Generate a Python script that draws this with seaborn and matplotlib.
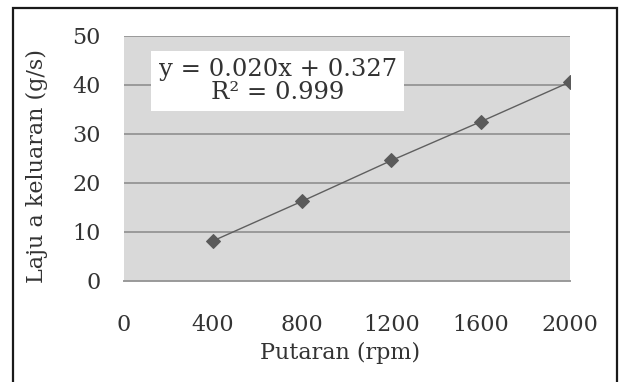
import matplotlib
matplotlib.use("Agg")
import matplotlib.pyplot as plt
import seaborn as sns
import pandas as pd
from matplotlib.patches import Rectangle

# Measured output rate at each rotation speed
rpm = [400, 800, 1200, 1600, 2000]
rate = [8.2, 16.3, 24.6, 32.5, 40.6]

x_ticks = [0, 400, 800, 1200, 1600, 2000]
y_ticks = [0, 10, 20, 30, 40, 50]

equation = "y = 0.020x + 0.327\nR\u00b2 = 0.999"
x_label = "Putaran (rpm)"
y_label = "Laju a keluaran (g/s)"

df = pd.DataFrame({"rpm": rpm, "rate": rate})

sns.set_theme(style="white")
plt.rcParams["font.family"] = ["DejaVu Serif"]

fig = plt.figure(figsize=(6.2, 3.82), dpi=100)
ax = fig.add_axes([0.2, 0.2644, 0.719, 0.6414])
ax.set_facecolor("#d9d9d9")

sns.lineplot(data=df, x="rpm", y="rate", ax=ax, color="#5f5f5f", linewidth=1.0,
             marker="D", markersize=7.5, markerfacecolor="#5a5a5a",
             markeredgecolor="#5a5a5a")

ax.set_xlim(0, 2000)
ax.set_ylim(0, 50)
ax.set_xticks(x_ticks)
ax.set_yticks(y_ticks)
ax.yaxis.grid(True, color="#9a9a9a", linewidth=1.4)
ax.set_axisbelow(True)
for s in ["left", "right", "top"]:
    ax.spines[s].set_visible(False)
ax.spines["bottom"].set_color("#9a9a9a")
ax.spines["bottom"].set_linewidth(1.4)

ax.tick_params(axis="both", length=0, labelsize=16, colors="#333333")
ax.tick_params(axis="x", pad=24)
ax.tick_params(axis="y", pad=17)
for lab in ax.get_xticklabels() + ax.get_yticklabels():
    lab.set_color("#333333")

ax.set_xlabel(x_label, fontsize=16, color="#333333")
ax.set_ylabel(y_label, fontsize=16, color="#333333")
ax.xaxis.set_label_coords(0.484, -0.25)
ax.yaxis.set_label_coords(-0.17, 0.47)

ax.text(0.345, 0.816, equation, transform=ax.transAxes, ha="center", va="center",
        multialignment="center", fontsize=17.5, color="#333333", linespacing=1.0,
        bbox=dict(boxstyle="square,pad=0.3", fc="white", ec="none"))

# Outer frame around the figure
fig.patches.append(Rectangle((13 / 620, -0.1), 604 / 620, 1 - 8 / 382 + 0.1,
                             transform=fig.transFigure, fill=False,
                             edgecolor="#1a1a1a", linewidth=1.6))

fig.savefig("out.png", dpi=100)
